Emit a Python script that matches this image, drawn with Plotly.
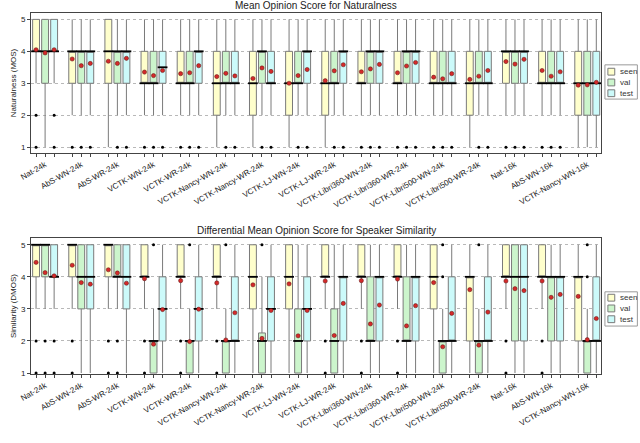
import plotly.graph_objects as go

systems = ["Nat-24k", "AbS-WN-24k", "AbS-WR-24k", "VCTK-WN-24k", "VCTK-WR-24k",
           "VCTK-Nancy-WN-24k", "VCTK-Nancy-WR-24k", "VCTK-LJ-WN-24k", "VCTK-LJ-WR-24k",
           "VCTK-Libri360-WN-24k", "VCTK-Libri360-WR-24k", "VCTK-Libri500-WN-24k",
           "VCTK-Libri500-WR-24k", "Nat-16k", "AbS-WN-16k", "VCTK-Nancy-WN-16k"]
sets = ["seen", "val", "test"]

# ---- MOS (naturalness) ----
mos_seen_q1 = [4, 3, 3, 3, 3, 2, 2, 2, 2, 3, 3, 3, 2, 3, 3, 2]
mos_seen_med = [4, 4, 4, 3, 3, 3, 3, 3, 3, 3, 3, 3, 3, 4, 3, 3]
mos_seen_q3 = [5, 4, 5, 4, 4, 4, 4, 4, 4, 4, 4, 4, 4, 4, 4, 4]
mos_seen_lo = [3, 2, 1, 2, 2, 1, 1, 1, 1, 2, 2, 2, 1, 2, 2, 1]
mos_seen_hi = [5, 5, 5, 5, 5, 5, 5, 5, 5, 5, 5, 5, 5, 5, 5, 5]
mos_seen_mean = [4.05, 3.76, 3.69, 3.35, 3.30, 3.21, 3.15, 3.00, 3.08, 3.36, 3.33, 3.19, 3.12, 3.68, 3.40, 2.94]
mos_seen_out = [[2, 1], [1], [], [1], [1], [], [], [], [], [1], [1], [1], [], [1], [1], []]

mos_val_q1 = [3, 3, 3, 3, 3, 3, 3, 3, 3, 3, 3, 3, 3, 3, 3, 2]
mos_val_med = [4, 4, 4, 3, 3, 3, 4, 3, 3, 4, 4, 3, 3, 4, 3, 3]
mos_val_q3 = [5, 4, 4, 4, 4, 4, 4, 4, 4, 4, 4, 4, 4, 4, 4, 4]
mos_val_lo = [1, 2, 2, 2, 2, 2, 2, 2, 2, 2, 2, 2, 2, 2, 2, 1]
mos_val_hi = [5, 5, 5, 5, 5, 5, 5, 5, 5, 5, 5, 5, 5, 5, 5, 5]
mos_val_mean = [3.95, 3.55, 3.62, 3.24, 3.33, 3.31, 3.48, 3.24, 3.39, 3.45, 3.54, 3.14, 3.22, 3.60, 3.22, 2.95]
mos_val_out = [[], [1], [1], [1], [1], [1], [1], [1], [1], [1], [1], [1], [1], [1], [1], []]

mos_test_q1 = [4, 3, 3, 3, 3, 3, 3, 3, 3, 3, 3, 3, 3, 3, 3, 2]
mos_test_med = [4, 4, 4, 3.5, 4, 3, 3, 4, 4, 4, 4, 3, 3, 4, 3, 3]
mos_test_q3 = [5, 4, 4, 4, 4, 4, 4, 4, 4, 4, 4, 4, 4, 4, 4, 4]
mos_test_lo = [3, 2, 2, 2, 2, 2, 2, 2, 2, 2, 2, 2, 2, 2, 2, 1]
mos_test_hi = [5, 5, 5, 5, 5, 5, 5, 5, 5, 5, 5, 5, 5, 5, 5, 5]
mos_test_mean = [4.05, 3.62, 3.78, 3.40, 3.55, 3.23, 3.37, 3.43, 3.58, 3.59, 3.65, 3.30, 3.40, 3.75, 3.36, 3.03]
mos_test_out = [[2, 1], [1], [1], [1], [1], [1], [1], [1], [1], [1], [1], [1], [1], [1], [1], []]

# ---- DMOS (speaker similarity) ----
dmos_seen_q1 = [4, 4, 4, 4, 4, 4, 3, 3, 4, 4, 4, 3, 2, 4, 4, 2]
dmos_seen_med = [5, 5, 5, 4, 4, 4, 4, 4, 4, 4, 4, 4, 4, 4, 4, 4]
dmos_seen_q3 = [5, 5, 5, 5, 5, 5, 5, 5, 5, 5, 5, 5, 4, 5, 5, 4]
dmos_seen_lo = [3, 3, 3, 3, 3, 3, 1, 1, 3, 3, 3, 1, 1, 3, 3, 1]
dmos_seen_hi = [5, 5, 5, 5, 5, 5, 5, 5, 5, 5, 5, 5, 5, 5, 5, 5]
dmos_seen_mean = [4.45, 4.36, 4.22, 3.94, 3.88, 3.81, 3.75, 3.78, 3.87, 3.88, 3.93, 3.82, 3.60, 3.87, 3.87, 3.39]
dmos_seen_out = [[2, 1], [2, 1], [2, 1], [2, 1], [2, 1], [2, 1], [], [], [2, 1], [2, 1], [2, 1], [], [], [2, 1], [2, 1], []]

dmos_val_q1 = [4, 3, 4, 1, 1, 1, 1, 1, 1, 2, 2, 1, 1, 2, 2, 1]
dmos_val_med = [5, 4, 4, 2, 2, 2, 2, 2, 2, 2, 2, 2, 2, 4, 4, 2]
dmos_val_q3 = [5, 5, 5, 2, 2, 2, 2.25, 3, 3, 4, 4, 2, 2, 5, 4, 2]
dmos_val_lo = [3, 1, 3, 1, 1, 1, 1, 1, 1, 1, 1, 1, 1, 1, 1, 1]
dmos_val_hi = [5, 5, 5, 3, 3, 3, 4, 5, 5, 5, 5, 3, 3, 5, 5, 3]
dmos_val_mean = [4.13, 3.82, 4.12, 1.90, 1.98, 2.03, 2.08, 2.16, 2.17, 2.53, 2.47, 1.82, 1.87, 3.63, 3.36, 2.04]
dmos_val_out = [[2, 1], [], [2, 1], [5], [5], [5], [5], [], [], [], [], [5, 4], [5], [], [], [5, 4]]

dmos_test_q1 = [4, 3, 3, 2, 2, 2, 2, 2, 2, 2, 2, 2, 2, 2, 2, 2]
dmos_test_med = [4, 4, 4, 3, 3, 2, 3, 3, 4, 4, 4, 2, 2, 4, 4, 2]
dmos_test_q3 = [5, 5, 5, 4, 4, 4, 4, 4, 4, 4, 4, 4, 4, 5, 4, 4]
dmos_test_lo = [3, 1, 1, 1, 1, 1, 1, 1, 1, 1, 1, 1, 1, 1, 1, 1]
dmos_test_hi = [5, 5, 5, 5, 5, 5, 5, 5, 5, 5, 5, 5, 5, 5, 5, 5]
dmos_test_mean = [4.03, 3.77, 3.80, 2.98, 2.99, 2.88, 2.95, 2.95, 3.17, 3.12, 3.10, 2.86, 2.90, 3.57, 3.45, 2.70]
dmos_test_out = [[2, 1], [], [], [], [], [], [], [], [], [], [], [], [], [], [], []]

panels = [
    dict(title="Mean Opinion Score for Naturalness", ytitle="Naturalness (MOS)",
         data={"seen": (mos_seen_q1, mos_seen_med, mos_seen_q3, mos_seen_lo, mos_seen_hi, mos_seen_mean, mos_seen_out),
               "val": (mos_val_q1, mos_val_med, mos_val_q3, mos_val_lo, mos_val_hi, mos_val_mean, mos_val_out),
               "test": (mos_test_q1, mos_test_med, mos_test_q3, mos_test_lo, mos_test_hi, mos_test_mean, mos_test_out)}),
    dict(title="Differential Mean Opinion Score for Speaker Similarity", ytitle="Similarity (DMOS)",
         data={"seen": (dmos_seen_q1, dmos_seen_med, dmos_seen_q3, dmos_seen_lo, dmos_seen_hi, dmos_seen_mean, dmos_seen_out),
               "val": (dmos_val_q1, dmos_val_med, dmos_val_q3, dmos_val_lo, dmos_val_hi, dmos_val_mean, dmos_val_out),
               "test": (dmos_test_q1, dmos_test_med, dmos_test_q3, dmos_test_lo, dmos_test_hi, dmos_test_mean, dmos_test_out)}),
]

fills = {"seen": "#FFFFCC", "val": "#CCF5CC", "test": "#CCFAFA"}
offsets = {"seen": -0.25, "val": 0.0, "test": 0.25}
BOXW = 0.19

W, H = 640, 443
ML, MR, MT, MB = 21, 39, 12, 62
PW, PH = W - ML - MR, H - MT - MB


def px(xp):
    return (xp - ML) / PW


def py(yp):
    return (H - MB - yp) / PH


fig = go.Figure()

for p, panel in enumerate(panels):
    xa = "x" if p == 0 else "x2"
    ya = "y" if p == 0 else "y2"
    for s in sets:
        q1, med, q3, lo, hi, mean, outs = panel["data"][s]
        xs = [i + offsets[s] for i in range(len(systems))]
        fig.add_trace(go.Box(
            x=xs, q1=q1, median=med, q3=q3, lowerfence=lo, upperfence=hi,
            width=BOXW, fillcolor=fills[s], line=dict(color="#7a7a7a", width=1),
            whiskerwidth=0, boxpoints=False, name=s, showlegend=False,
            xaxis=xa, yaxis=ya, hoverinfo="skip"))
        # medians (thick black)
        fig.add_trace(go.Scatter(
            x=xs, y=med, mode="markers", showlegend=False, hoverinfo="skip",
            marker=dict(symbol="line-ew", size=7, line=dict(width=1.8, color="black")),
            xaxis=xa, yaxis=ya))
        # outliers
        ox, oy = [], []
        for i, vals in enumerate(outs):
            for v in vals:
                ox.append(i + offsets[s])
                oy.append(v)
        fig.add_trace(go.Scatter(
            x=ox, y=oy, mode="markers", showlegend=False, hoverinfo="skip",
            marker=dict(symbol="circle", size=3, color="black"),
            xaxis=xa, yaxis=ya))
        # means
        fig.add_trace(go.Scatter(
            x=xs, y=mean, mode="markers", showlegend=False, hoverinfo="skip",
            marker=dict(symbol="circle", size=4.2, color="#d42a2a",
                        line=dict(width=0.5, color="#5a1010")),
            xaxis=xa, yaxis=ya))

tickvals, ticktext = [], []
for i, name in enumerate(systems):
    for s in sets:
        tickvals.append(i + offsets[s])
        ticktext.append(name if s == "val" else "")

axis_common = dict(showline=True, mirror=True, linecolor="#444", linewidth=1,
                   zeroline=False)
xcommon = dict(axis_common, range=[-0.39, 15.38], tickvals=tickvals, ticktext=ticktext,
               tickangle=-30, tickfont=dict(size=8, color="#222"), ticks="outside",
               ticklen=3, tickcolor="#444", showgrid=False)
ycommon = dict(axis_common, tickvals=[1, 2, 3, 4, 5], tickfont=dict(size=8, color="#222"),
               ticks="outside", ticklen=3, tickcolor="#444", showgrid=True,
               gridcolor="#b8b8b8", griddash="dot", gridwidth=1)

top_dom = [py(155), 1.0]
bot_dom = [0.0, py(242)]

fig.update_layout(
    width=W, height=H,
    margin=dict(l=ML, r=MR, t=MT, b=MB),
    paper_bgcolor="white", plot_bgcolor="white",
    font=dict(family="Liberation Sans, Arial, sans-serif", color="#222"),
    boxmode="overlay",
    showlegend=False,
    xaxis=dict(xcommon, domain=[0, 1], anchor="y"),
    yaxis=dict(ycommon, domain=top_dom, anchor="x", range=[0.82, 5.2],
               title=dict(text=panels[0]["ytitle"], font=dict(size=8), standoff=3)),
    xaxis2=dict(xcommon, domain=[0, 1], anchor="y2"),
    yaxis2=dict(ycommon, domain=bot_dom, anchor="x2", range=[0.97, 5.21],
                title=dict(text=panels[1]["ytitle"], font=dict(size=8), standoff=3)),
)

annotations = [
    dict(text=panels[0]["title"], x=0.5, y=py(4), xref="paper", yref="paper",
         showarrow=False, font=dict(size=10, color="#222"), xanchor="center", yanchor="middle"),
    dict(text=panels[1]["title"], x=0.5, y=py(234), xref="paper", yref="paper",
         showarrow=False, font=dict(size=10, color="#222"), xanchor="center", yanchor="middle"),
]
shapes = []
# legends (one per panel)
for top, items_y in [(65, [72, 83, 94]), (297, [303, 314, 325])]:
    shapes.append(dict(type="rect", xref="paper", yref="paper",
                       x0=px(605), x1=px(638), y0=py(top), y1=py(top + 35),
                       line=dict(color="#999", width=1), fillcolor="white"))
    for s, yy in zip(sets, items_y):
        shapes.append(dict(type="rect", xref="paper", yref="paper",
                           x0=px(608), x1=px(615), y0=py(yy - 3.5), y1=py(yy + 3.5),
                           line=dict(color="#7a7a7a", width=1), fillcolor=fills[s]))
        annotations.append(dict(text=s, x=px(618), y=py(yy), xref="paper", yref="paper",
                                showarrow=False, xanchor="left", yanchor="middle",
                                font=dict(size=8, color="#333")))
fig.update_layout(annotations=annotations, shapes=shapes)

fig.write_html("out.html", config={"displayModeBar": False},
               post_script="document.body.style.margin='0';")
